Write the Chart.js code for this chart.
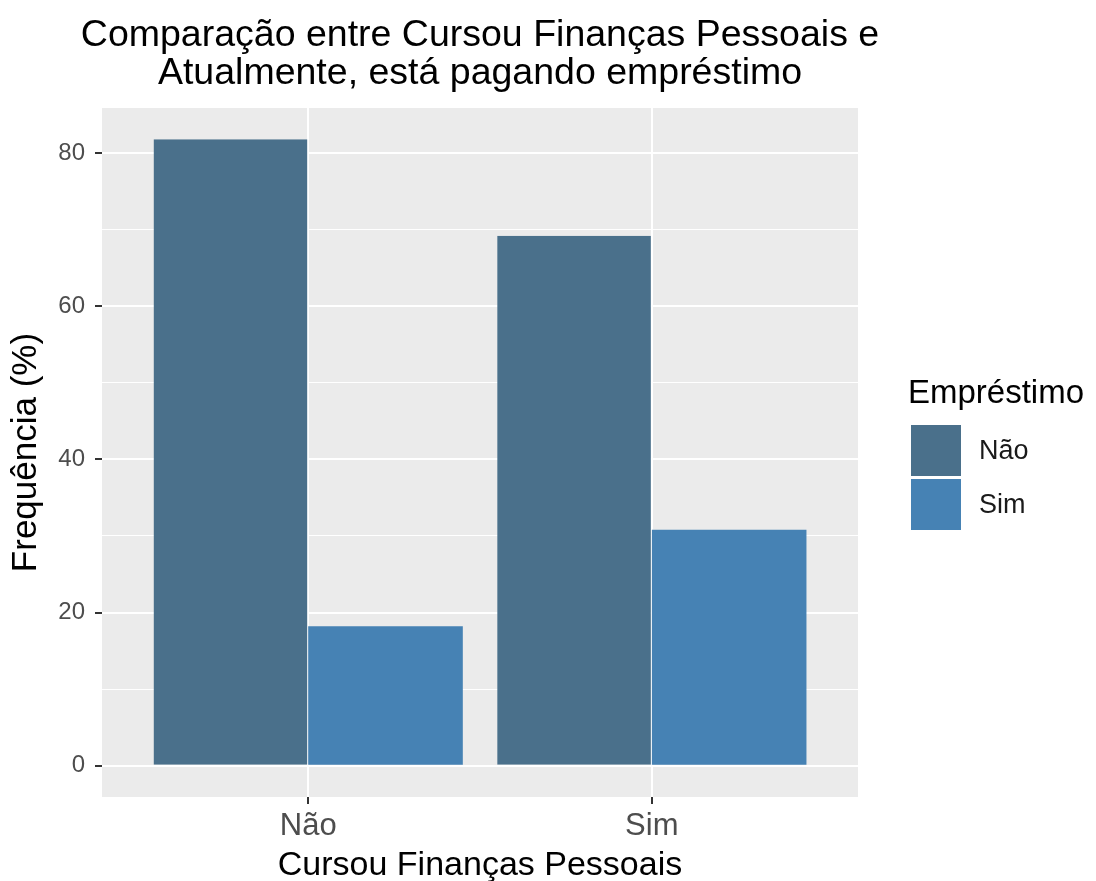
<!DOCTYPE html>
<html lang="pt">
<head>
<meta charset="utf-8">
<title>Cursou Finanças Pessoais × Empréstimo</title>
<script src="https://cdn.jsdelivr.net/npm/chart.js@4/dist/chart.umd.min.js"></script>
<style>
  html, body { margin: 0; padding: 0; background: #ffffff; }
  #wrap { width: 1096px; height: 881px; }
</style>
</head>
<body>
<div id="wrap"><canvas id="chart" width="1096" height="881"></canvas></div>
<script>
// Categorias do eixo x: fez ou não o curso de finanças pessoais
const categories = ['Não', 'Sim'];
// Frequência (%) de quem está pagando empréstimo, por categoria
const emprestimoNao = [81.8, 69.2];
const emprestimoSim = [18.2, 30.8];
// Séries da legenda
const seriesLabels = ['Não', 'Sim'];
const seriesColors = ['#4A708B', '#4682B4'];
// Rótulos do eixo y (linhas principais) e linhas secundárias
const yTicks = [0, 20, 40, 60, 80];
const yMinorTicks = [10, 30, 50, 70];
// Título em duas linhas
const titleLines = ['Comparação entre Cursou Finanças Pessoais e', 'Atualmente, está pagando empréstimo'];

const FONT = '"Liberation Sans", Arial, Helvetica, sans-serif';
const yMaxData = Math.max(...emprestimoNao, ...emprestimoSim);
const yPad = yMaxData * 0.05;

function toPoints(values) {
  return values.map((v, i) => ({ x: i + 1, y: v }));
}

// Fundo cinza do painel
const panelBackground = {
  id: 'panelBackground',
  beforeDraw(chart) {
    const { ctx, chartArea: a } = chart;
    ctx.save();
    ctx.fillStyle = '#EBEBEB';
    ctx.fillRect(a.left, a.top, a.right - a.left, a.bottom - a.top);
    ctx.restore();
  }
};

// Título centrado sobre o painel (pode ultrapassar a largura do painel)
const panelTitle = {
  id: 'panelTitle',
  afterDraw(chart) {
    const { ctx, chartArea: a } = chart;
    const cx = (a.left + a.right) / 2;
    ctx.save();
    ctx.fillStyle = '#000000';
    ctx.font = '37.5px ' + FONT;
    ctx.textAlign = 'center';
    ctx.textBaseline = 'alphabetic';
    titleLines.forEach((line, i) => ctx.fillText(line, cx, 46 + i * 38));
    ctx.restore();
  }
};

// Legenda à direita do painel, com título e caixas de cor
const sideLegend = {
  id: 'sideLegend',
  afterDraw(chart) {
    const { ctx } = chart;
    const x0 = 911, keyW = 50, keyH = 51, gap = 3, top = 425;
    ctx.save();
    ctx.fillStyle = '#000000';
    ctx.font = '33px ' + FONT;
    ctx.textAlign = 'left';
    ctx.textBaseline = 'alphabetic';
    ctx.fillText('Empréstimo', 908, 403);
    ctx.font = '27px ' + FONT;
    ctx.textBaseline = 'middle';
    chart.data.datasets.forEach((ds, i) => {
      const y = top + i * (keyH + gap);
      ctx.fillStyle = ds.backgroundColor;
      ctx.fillRect(x0, y, keyW, keyH);
      ctx.fillStyle = '#1A1A1A';
      ctx.fillText(ds.label, 979, y + keyH / 2 + 1);
    });
    ctx.restore();
  }
};

const ctx = document.getElementById('chart').getContext('2d');
new Chart(ctx, {
  type: 'bar',
  data: {
    datasets: [
      {
        label: seriesLabels[0],
        data: toPoints(emprestimoNao),
        backgroundColor: seriesColors[0],
        borderColor: 'rgba(255,255,255,0.55)',
        borderWidth: { top: 0, left: 0, bottom: 0, right: 1 },
        borderSkipped: false
      },
      {
        label: seriesLabels[1],
        data: toPoints(emprestimoSim),
        backgroundColor: seriesColors[1],
        borderWidth: 0
      }
    ]
  },
  options: {
    responsive: false,
    animation: false,
    devicePixelRatio: 1,
    layout: { padding: { left: 0, right: 238, top: 108, bottom: 0 } },
    datasets: { bar: { categoryPercentage: 0.9, barPercentage: 1.0 } },
    plugins: {
      legend: { display: false },
      tooltip: { enabled: false },
      title: { display: false }
    },
    scales: {
      x: {
        type: 'linear',
        offset: false,
        min: 0.4,
        max: 2.6,
        afterBuildTicks(scale) {
          scale.ticks = categories.map((c, i) => ({ value: i + 1 }));
        },
        afterFit(scale) { scale.height = 84; },
        border: { display: false },
        grid: {
          offset: false,
          color: '#FFFFFF',
          lineWidth: 2,
          drawTicks: true,
          tickLength: 7,
          tickWidth: 2,
          tickColor: '#333333'
        },
        ticks: {
          padding: 4,
          color: '#4D4D4D',
          font: { family: FONT, size: 31 },
          maxRotation: 0,
          autoSkip: false,
          callback: (v) => categories[Math.round(v) - 1] || ''
        },
        title: {
          display: true,
          text: 'Cursou Finanças Pessoais',
          color: '#000000',
          font: { family: FONT, size: 34, lineHeight: 1 },
          padding: { top: 0, bottom: -2 }
        }
      },
      y: {
        type: 'linear',
        min: -yPad,
        max: yMaxData + yPad,
        afterBuildTicks(scale) {
          scale.ticks = [...yTicks, ...yMinorTicks].sort((a, b) => a - b).map(v => ({ value: v }));
        },
        afterFit(scale) { scale.width = 102; },
        border: { display: false },
        grid: {
          color: '#FFFFFF',
          lineWidth: (c) => (yTicks.includes(c.tick.value) ? 2 : 1),
          drawTicks: true,
          tickLength: 7,
          tickWidth: 2,
          tickColor: (c) => (yTicks.includes(c.tick.value) ? '#333333' : 'rgba(0,0,0,0)')
        },
        ticks: {
          padding: 10,
          color: '#4D4D4D',
          font: { family: FONT, size: 24 },
          callback: (v) => (yTicks.includes(v) ? String(v) : '')
        },
        title: {
          display: true,
          text: 'Frequência (%)',
          color: '#000000',
          font: { family: FONT, size: 35, lineHeight: 1 },
          padding: { top: 9, bottom: 0 }
        }
      }
    }
  },
  plugins: [panelBackground, panelTitle, sideLegend]
});
</script>
</body>
</html>
